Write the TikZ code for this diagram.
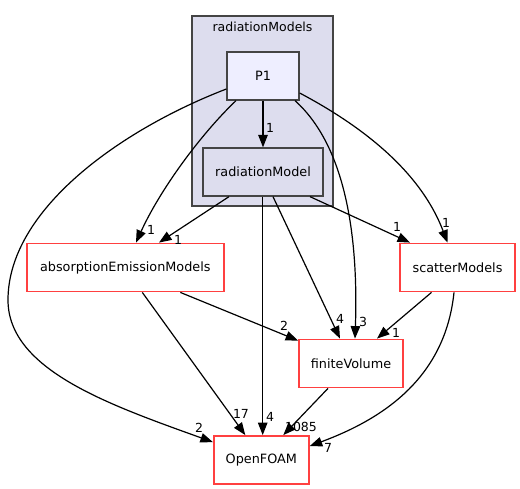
\documentclass[tikz,border=0pt]{standalone}
\usepackage{fontspec}
\setmainfont{DejaVu Sans}
\usetikzlibrary{arrows.meta}
\definecolor{clfill}{HTML}{DDDDEE}
\definecolor{pfill}{HTML}{EEEEFF}
\definecolor{dgray}{HTML}{444444}
\definecolor{redb}{HTML}{FF4040}
\tikzset{
  box/.style={draw, line width=1.3pt, rectangle, minimum height=48pt, inner sep=0pt, font=\fontsize{12.8}{14}\selectfont},
  inbox/.style={box, draw=dgray},
  redbox/.style={box, draw=redb, fill=white, line width=1.8pt},
  edge/.style={line width=1.2pt, -{Triangle[length=12.5pt,width=9.5pt]}},
  lbl/.style={font=\fontsize{12.5}{14}\selectfont, inner sep=0pt}
}
\begin{document}
\begin{tikzpicture}[x=1pt,y=-1pt]
\useasboundingbox (0,0) rectangle (520,489);
\fill[white] (0,0) rectangle (520,489);
% cluster
\draw[fill=clfill, draw=dgray, line width=1.2pt] (192,16) rectangle (333,206);
\node[lbl] (cltitle) at (262.5,27) {radiationModels};
% nodes
\node[inbox, fill=pfill, minimum width=72pt] (P1) at (263,76) {P1};
\node[inbox, fill=clfill, minimum width=120pt] (rm) at (263,172) {radiationModel};
\node[redbox, minimum width=197pt] (aem) at (125.3,267.5) {absorptionEmissionModels};
\node[redbox, minimum width=115pt] (sm) at (457.5,267.5) {scatterModels};
\node[redbox, minimum width=104pt] (fv) at (351,363.5) {finiteVolume};
\node[redbox, minimum width=95pt] (OF) at (261.3,460) {OpenFOAM};
% edges
\draw[edge] (P1.south) -- (rm.north);
\draw[edge] ([xshift=-27pt]P1.south) .. controls (200,135) and (160,190) .. ([xshift=10.7pt]aem.north);
\draw[edge] ([xshift=-34pt]rm.south) -- ([xshift=33.7pt]aem.north);
\draw[edge] ([yshift=-13pt]P1.west) .. controls (120,130) and (8,210) .. (8,300) .. controls (8,370) and (110,405) .. ([yshift=-7pt]OF.north west);
\draw[edge] ([xshift=32pt]P1.south) .. controls (350,150) and (358,250) .. ([xshift=4pt]fv.north);
\draw[edge] ([yshift=-17pt]P1.east) .. controls (360,125) and (420,170) .. ([xshift=-10pt]sm.north);
\draw[edge] ([xshift=47pt]rm.south) -- ([xshift=-47.5pt]sm.north);
\draw[edge] ([xshift=-0.3pt]rm.south) -- ([xshift=-0.3pt]rm.south |- OF.north);
\draw[edge] ([xshift=10pt]rm.south) -- ([xshift=-11pt]fv.north);
\draw[edge] ([xshift=55pt]aem.south) -- ([yshift=-2pt]fv.north west);
\draw[edge] ([xshift=17pt]aem.south) -- ([xshift=-16pt]OF.north);
\draw[edge] ([xshift=-26pt]sm.south) -- ([xshift=26pt]fv.north);
\draw[edge] ([xshift=-3.5pt]sm.south) .. controls (445,380) and (380,420) .. ([yshift=-11pt]OF.north east);
\draw[edge] ([xshift=-23pt]fv.south) -- ([xshift=22pt]OF.north);
% labels
\node[lbl] (l1) at (270,128) {1};
\node[lbl] (l2) at (151,230) {1};
\node[lbl] (l3) at (178,240) {1};
\node[lbl] (l4) at (199,428) {2};
\node[lbl] (l5) at (363,322) {3};
\node[lbl] (l6) at (446,223) {1};
\node[lbl] (l7) at (397,227) {1};
\node[lbl] (l8) at (270,417) {4};
\node[lbl] (l9) at (340,319) {4};
\node[lbl] (l10) at (284,326) {2};
\node[lbl] (l11) at (241,414) {17};
\node[lbl] (l12) at (396,333) {1};
\node[lbl] (l13) at (328,448) {7};
\node[lbl] (l14) at (301,427) {1085};
\end{tikzpicture}
\end{document}
